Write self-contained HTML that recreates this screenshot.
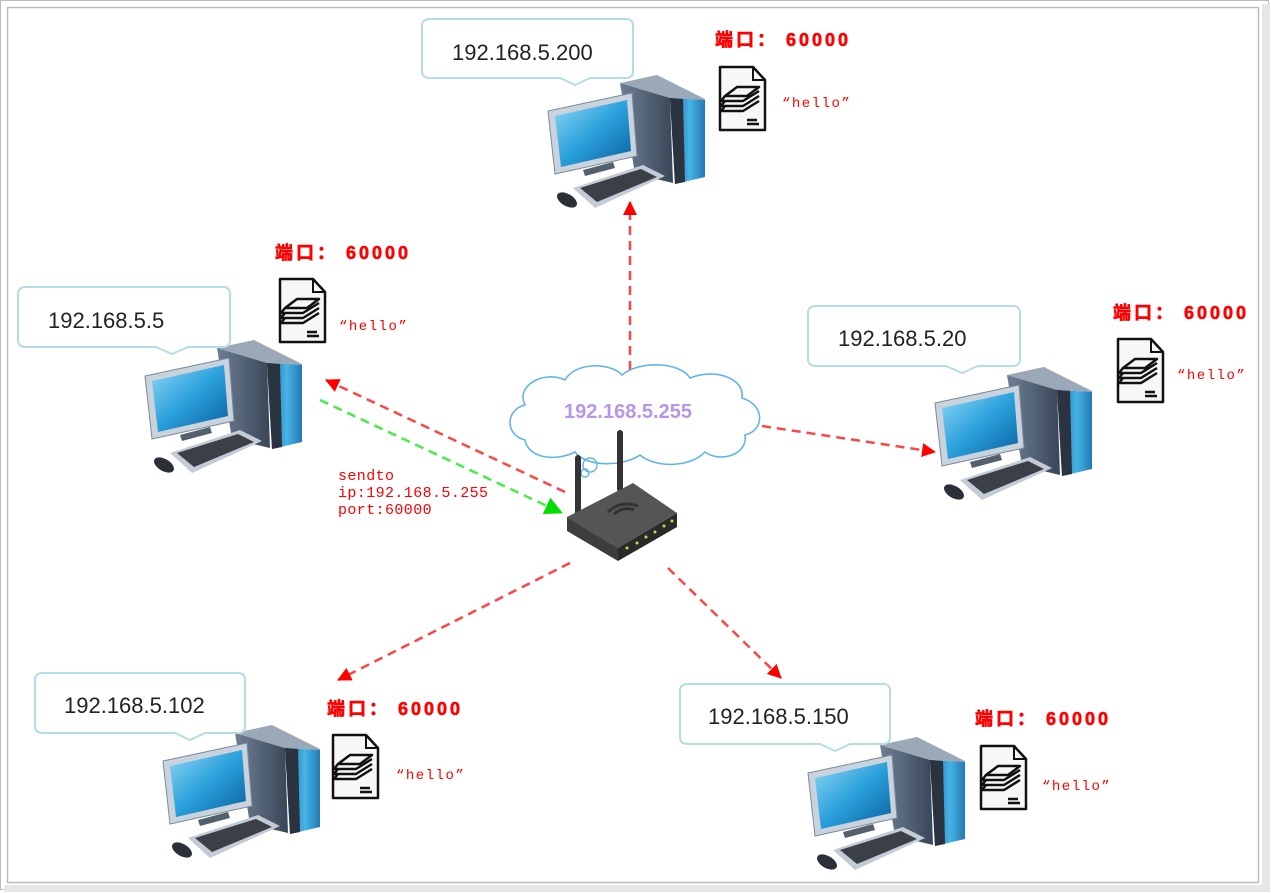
<!DOCTYPE html>
<html><head><meta charset="utf-8"><style>
html,body{margin:0;padding:0;background:#fff;}
body{width:1271px;height:893px;position:relative;overflow:hidden;font-family:"Liberation Sans","Noto Sans CJK SC",sans-serif;}
svg{position:absolute;left:0;top:0;}
</style></head><body>
<svg width="1271" height="893" viewBox="0 0 1271 893" xmlns="http://www.w3.org/2000/svg">
<defs>
<linearGradient id="scr" x1="0" y1="0" x2="1" y2="1"><stop offset="0" stop-color="#8fd8f5"/><stop offset="0.5" stop-color="#2aa0db"/><stop offset="1" stop-color="#0a5f9e"/></linearGradient>
<linearGradient id="tw" x1="0" y1="0" x2="1" y2="0"><stop offset="0" stop-color="#6e7f93"/><stop offset="1" stop-color="#3a4658"/></linearGradient>
<linearGradient id="tf" x1="0" y1="0" x2="1" y2="0"><stop offset="0" stop-color="#1c5f98"/><stop offset="0.5" stop-color="#46b4e6"/><stop offset="1" stop-color="#1a6aa6"/></linearGradient>
<symbol id="pc" viewBox="0 0 170 140" width="170" height="140">
<polygon points="85,15 122,7 172,32 135,30" fill="#9aa8b8"/>
<polygon points="85,15 135,30 138,115 100,106" fill="url(#tw)"/>
<polygon points="135,30 172,32 174,108 140,116" fill="url(#tf)"/>
<polygon points="135,30 148,31 150,114 140,116" fill="#2c3340"/>
<polygon points="13,43 97,25 102,88 20,106" fill="#c9d3dd" stroke="#7d8a98"/>
<polygon points="20,48 92,32 96,83 26,99" fill="url(#scr)"/>
<polygon points="48,102 78,94 80,100 50,108" fill="#55606e"/>
<polygon points="38,120 108,97 130,108 60,140" fill="#c3ccd6"/>
<polygon points="45,120 106,101 122,109 62,134" fill="#3a3f48"/>
<ellipse cx="32" cy="132" rx="11" ry="6" transform="rotate(30 32 132)" fill="#2b3038"/>
</symbol>
<symbol id="doc" viewBox="0 0 50 68" width="50" height="68">
<path d="M3,2 H36 L48,15 V65 H3 Z" fill="#f7f7f7" stroke="#111" stroke-width="2.5" stroke-linejoin="round"/>
<path d="M36,2 V15 H48" fill="none" stroke="#111" stroke-width="2"/>
<g fill="none" stroke="#111" stroke-width="2.5" stroke-linejoin="round">
<polygon points="8,31 20,22 42,22 30,31"/>
<path d="M8,31 L4,36 H26 L42,26"/>
<path d="M8,36 L4,41 H26 L42,31"/>
<path d="M8,41 L4,46 H26 L42,36"/>
<path d="M30,55 H40 M30,59 H42"/>
</g>
</symbol>
<marker id="ar" markerWidth="14" markerHeight="14" refX="13" refY="7" orient="auto" markerUnits="userSpaceOnUse"><path d="M0,0 L14,7 L0,14 Z" fill="#f00"/></marker>
<marker id="ag" markerWidth="18" markerHeight="18" refX="17" refY="9" orient="auto" markerUnits="userSpaceOnUse"><path d="M0,0 L18,9 L0,18 Z" fill="#0d0"/></marker>
</defs>

<rect x="0.5" y="0.5" width="1268" height="889" fill="#fff" stroke="#bbb"/>
<rect x="1262" y="4" width="8" height="888" fill="#e6e6e6"/>
<rect x="4" y="885" width="1266" height="7" fill="#e6e6e6"/>
<rect x="7.5" y="7.5" width="1251" height="875" fill="#fff" stroke="#bdbdbd" stroke-width="1.5"/>

<g stroke="#f44" stroke-width="2.5" stroke-dasharray="9,6" fill="none">
<line x1="630" y1="370" x2="630" y2="202" marker-end="url(#ar)"/>
<line x1="565" y1="492" x2="326" y2="380" marker-end="url(#ar)"/>
<line x1="762" y1="426" x2="935" y2="452" marker-end="url(#ar)"/>
<line x1="570" y1="563" x2="338" y2="680" marker-end="url(#ar)"/>
<line x1="668" y1="568" x2="781" y2="678" marker-end="url(#ar)"/>
</g>
<line x1="320" y1="400" x2="562" y2="513" stroke="#4e4" stroke-width="2.5" stroke-dasharray="9,6" marker-end="url(#ag)"/>

<path d="M525,440 C505,435 505,410 525,405 C515,385 545,370 565,380 C575,362 610,362 622,375 C640,360 680,362 690,378 C715,368 745,378 742,398 C765,405 765,430 745,435 C748,455 720,463 705,452 C690,468 655,468 640,455 C620,468 585,466 575,452 C555,462 528,458 525,440 Z" fill="#fff" stroke="#63b3e6" stroke-width="1.6"/>
<circle cx="590" cy="465" r="7" fill="none" stroke="#63b3e6" stroke-width="1.4"/>
<circle cx="585" cy="473" r="4" fill="none" stroke="#63b3e6" stroke-width="1.4"/>
<text x="628" y="418" text-anchor="middle" font-family="Liberation Sans,sans-serif" font-weight="bold" font-size="20" fill="#b497e8">192.168.5.255</text>

<rect x="575" y="455" width="6" height="62" rx="3" fill="#333"/>
<rect x="617" y="430" width="6" height="62" rx="3" fill="#333"/>
<polygon points="567,517 633,483 677,513 618,548" fill="#555"/>
<polygon points="567,517 618,548 618,561 567,531" fill="#3d3d3d"/>
<polygon points="618,548 677,513 677,527 618,561" fill="#2a2a2a"/>
<g fill="#b8e04a"><circle cx="627" cy="548" r="1.5"/><circle cx="637" cy="543" r="1.5"/><circle cx="646" cy="537" r="1.5"/><circle cx="655" cy="532" r="1.5"/><circle cx="664" cy="526" r="1.5"/><circle cx="672" cy="521" r="1.5"/></g>
<path d="M608,512 q12,-12 30,-6 M614,514 q10,-8 20,-4" stroke="#333" stroke-width="3" fill="none"/>

<use href="#pc" x="535" y="68"/>
<use href="#pc" x="132" y="333"/>
<use href="#pc" x="922" y="360"/>
<use href="#pc" x="150" y="718"/>
<use href="#pc" x="795" y="730"/>

<g fill="#fff" stroke="#b5dde3" stroke-width="2">
<path d="M430,19 H626 Q633,19 633,26 V71 Q633,78 626,78 H590 L575,85 L560,78 H430 Q422,78 422,71 V26 Q422,19 430,19 Z"/>
<path d="M26,287 H223 Q230,287 230,294 V340 Q230,347 223,347 H188 L172,354 L156,347 H26 Q18,347 18,340 V294 Q18,287 26,287 Z"/>
<path d="M816,306 H1013 Q1020,306 1020,313 V359 Q1020,366 1013,366 H978 L962,373 L946,366 H816 Q808,366 808,359 V313 Q808,306 816,306 Z"/>
<path d="M43,673 H238 Q245,673 245,680 V726 Q245,733 238,733 H205 L190,740 L175,733 H43 Q35,733 35,726 V680 Q35,673 43,673 Z"/>
<path d="M688,684 H883 Q890,684 890,691 V737 Q890,744 883,744 H850 L835,751 L820,744 H688 Q680,744 680,737 V691 Q680,684 688,684 Z"/>
</g>
<g font-family="Liberation Sans,sans-serif" font-size="22" fill="#222">
<text x="452" y="60">192.168.5.200</text>
<text x="48" y="328">192.168.5.5</text>
<text x="838" y="346">192.168.5.20</text>
<text x="64" y="713">192.168.5.102</text>
<text x="708" y="724">192.168.5.150</text>
</g>

<use href="#doc" x="717" y="65"/>
<use href="#doc" x="277" y="277"/>
<use href="#doc" x="1115" y="337"/>
<use href="#doc" x="330" y="733"/>
<use href="#doc" x="978" y="744"/>

<g font-family="Liberation Sans,Noto Sans CJK SC,sans-serif" font-weight="bold" font-size="18" fill="#f00" letter-spacing="3" stroke="#f00" stroke-width="0.6">
<text x="715" y="46">端口： 60000</text>
<text x="275" y="259">端口： 60000</text>
<text x="1113" y="319">端口： 60000</text>
<text x="327" y="715">端口： 60000</text>
<text x="975" y="725">端口： 60000</text>
</g>
<g font-family="Liberation Mono,monospace" font-size="14" fill="#f00" letter-spacing="1.5">
<text x="782" y="107">“hello”</text>
<text x="339" y="330">“hello”</text>
<text x="1177" y="379">“hello”</text>
<text x="396" y="779">“hello”</text>
<text x="1042" y="790">“hello”</text>
</g>
<g font-family="Liberation Mono,monospace" font-size="15" fill="#f00" letter-spacing="0.4">
<text x="338" y="480">sendto</text>
<text x="338" y="497">ip:192.168.5.255</text>
<text x="338" y="514">port:60000</text>
</g>
</svg>
</body></html>
